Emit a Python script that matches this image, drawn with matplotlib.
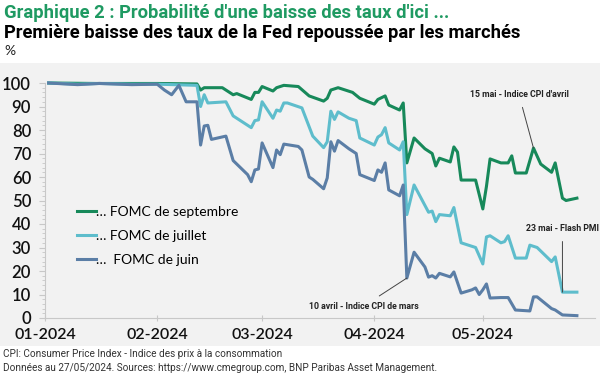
import numpy as np
import pandas as pd
import matplotlib
matplotlib.use("Agg")
import matplotlib.pyplot as plt
import matplotlib.dates as mdates
from matplotlib.patches import Rectangle
from matplotlib.ticker import MultipleLocator

# ---- data ----
sep_dates = ["2024-01-02", "2024-01-15", "2024-02-01", "2024-02-12", "2024-02-13", "2024-02-14",
             "2024-02-19", "2024-02-20", "2024-02-22", "2024-02-23", "2024-02-27", "2024-02-28",
             "2024-02-29", "2024-03-01", "2024-03-04", "2024-03-05", "2024-03-07", "2024-03-11",
             "2024-03-14", "2024-03-18", "2024-03-19", "2024-03-20", "2024-03-22", "2024-03-26",
             "2024-03-28", "2024-04-01", "2024-04-02", "2024-04-04", "2024-04-05", "2024-04-08",
             "2024-04-09", "2024-04-10", "2024-04-12", "2024-04-15", "2024-04-17", "2024-04-18",
             "2024-04-19", "2024-04-22", "2024-04-23", "2024-04-24", "2024-04-25", "2024-04-29",
             "2024-05-01", "2024-05-02", "2024-05-03", "2024-05-06", "2024-05-08", "2024-05-09",
             "2024-05-10", "2024-05-13", "2024-05-15", "2024-05-17", "2024-05-20", "2024-05-21",
             "2024-05-23", "2024-05-24", "2024-05-27"]
sep_vals = [100, 99.8, 99.8, 99.6, 97, 98,
            98, 97, 95, 95.5, 93, 96,
            96, 98.5, 96.6, 98, 99, 98.5,
            94.5, 92.3, 93.5, 97, 98, 96,
            93.5, 91, 93, 94.5, 90.6, 88.5,
            91.5, 66, 76.6, 72, 70, 64.7,
            68, 66.4, 72.8, 70.6, 58.7, 58.7,
            46.4, 56, 67.7, 66, 66, 69,
            61.7, 61.7, 72.3, 65.5, 62, 66,
            51, 50, 51]

jul_dates = ["2024-01-02", "2024-01-10", "2024-01-16", "2024-01-25", "2024-02-01", "2024-02-12",
             "2024-02-13", "2024-02-14", "2024-02-15", "2024-02-20", "2024-02-22", "2024-02-23",
             "2024-02-27", "2024-02-28", "2024-02-29", "2024-03-01", "2024-03-04", "2024-03-05",
             "2024-03-06", "2024-03-07", "2024-03-08", "2024-03-12", "2024-03-15", "2024-03-18",
             "2024-03-19", "2024-03-20", "2024-03-21", "2024-03-22", "2024-03-25", "2024-03-27",
             "2024-03-28", "2024-04-01", "2024-04-02", "2024-04-03", "2024-04-04", "2024-04-05",
             "2024-04-08", "2024-04-09", "2024-04-10", "2024-04-12", "2024-04-16", "2024-04-17",
             "2024-04-18", "2024-04-19", "2024-04-22", "2024-04-23", "2024-04-25", "2024-04-29",
             "2024-05-01", "2024-05-02", "2024-05-03", "2024-05-06", "2024-05-07", "2024-05-08",
             "2024-05-10", "2024-05-13", "2024-05-14", "2024-05-16", "2024-05-20", "2024-05-21",
             "2024-05-23", "2024-05-27"]
jul_vals = [100, 99.5, 99.8, 99.5, 99.5, 99,
            90, 95, 91.5, 92, 86, 85,
            81, 84, 84.3, 92, 85, 88.5,
            88, 91.5, 91.5, 89.4, 77.4, 72.5,
            75, 88, 84.5, 87.7, 85, 84,
            76.6, 73.6, 77, 78, 81, 74.5,
            71.5, 75, 44, 56.6, 45, 45.5,
            41, 44, 43.5, 47, 32, 30,
            23, 34.5, 35, 32, 32.5, 35,
            25.5, 25.5, 31, 30, 24, 26,
            11, 11]

jun_dates = ["2024-01-02", "2024-01-10", "2024-01-16", "2024-01-25", "2024-02-01", "2024-02-03",
             "2024-02-05", "2024-02-07", "2024-02-09", "2024-02-12", "2024-02-13", "2024-02-14",
             "2024-02-15", "2024-02-16", "2024-02-20", "2024-02-22", "2024-02-26", "2024-02-27",
             "2024-02-28", "2024-02-29", "2024-03-01", "2024-03-04", "2024-03-05", "2024-03-06",
             "2024-03-07", "2024-03-11", "2024-03-12", "2024-03-14", "2024-03-15", "2024-03-18",
             "2024-03-19", "2024-03-20", "2024-03-21", "2024-03-22", "2024-03-25", "2024-03-27",
             "2024-03-28", "2024-04-01", "2024-04-02", "2024-04-03", "2024-04-04", "2024-04-05",
             "2024-04-08", "2024-04-09", "2024-04-10", "2024-04-12", "2024-04-15", "2024-04-16",
             "2024-04-17", "2024-04-18", "2024-04-19", "2024-04-22", "2024-04-23", "2024-04-25",
             "2024-04-28", "2024-04-29", "2024-04-30", "2024-05-01", "2024-05-02", "2024-05-03",
             "2024-05-06", "2024-05-08", "2024-05-10", "2024-05-14", "2024-05-15", "2024-05-16",
             "2024-05-20", "2024-05-21", "2024-05-23", "2024-05-27"]
jun_vals = [100, 99.3, 99.8, 99.3, 99.5, 97,
            95, 99, 92, 92, 73.6, 81.7,
            82, 76, 77.4, 67, 61, 58,
            63, 63.4, 74.5, 64, 71.5, 69.5,
            74, 73, 71.5, 60, 59, 55,
            59.6, 75, 71, 75.5, 72, 70,
            61, 58.5, 63, 62, 66, 54.5,
            52, 56.6, 17, 28, 21.7, 17.4,
            18, 17, 19, 17.5, 19.6, 10.6,
            12, 12.8, 10, 12, 14.5, 8.5,
            8.7, 8.7, 3.4, 3, 9, 9,
            4, 3.4, 1.3, 1]

series_labels = ["\u2026 FOMC de septembre", "\u2026 FOMC de juillet", "\u2026  FOMC de juin"]
series_colors = ["#17895a", "#5ebdcc", "#5b7ea6"]
month_ticks = ["2024-01-01", "2024-02-01", "2024-03-01", "2024-04-01", "2024-05-01"]

narrow = ["Roboto", "DejaVu Sans"]

# ---- figure ----
W, H = 605, 377
fig = plt.figure(figsize=(W / 100, H / 100), dpi=100)
fig.patch.set_facecolor("white")

# gray panel behind the chart
fig.patches.append(Rectangle((0, 1 - 346 / H), 600 / W, (346 - 63) / H,
                             transform=fig.transFigure, facecolor="#f2f2f2",
                             edgecolor="none", zorder=-10))

fig.text(4 / W, 1 - 13 / H, "Graphique 2 : Probabilité d'une baisse des taux d'ici ...",
         color="#1f9a62", fontsize=13.2, fontweight="bold", family=narrow, va="center")
fig.text(4 / W, 1 - 33 / H, "Première baisse des taux de la Fed repoussée par les marchés",
         color="black", fontsize=13.2, fontweight="bold", family=narrow, va="center")
fig.text(4 / W, 1 - 51 / H, "%", color="#222222", fontsize=10, family="Lato", va="center")

fig.text(3 / W, 1 - 354 / H, "CPI: Consumer Price Index - Indice des prix à la consommation",
         color="#333333", fontsize=7.2, family=narrow, va="center")
fig.text(3 / W, 1 - 368 / H,
         "Données au 27/05/2024. Sources: https://www.cmegroup.com, BNP Paribas Asset Management.",
         color="#333333", fontsize=7.2, family=narrow, va="center")

ax = fig.add_axes([45 / W, (H - 318) / H, (595 - 45) / W, (318 - 83) / H], zorder=2)
ax.set_facecolor("none")

all_dates = [sep_dates, jul_dates, jun_dates]
all_vals = [sep_vals, jul_vals, jun_vals]
for d, v, lab, c in zip(all_dates, all_vals, series_labels, series_colors):
    ax.plot(pd.to_datetime(d), v, color=c, lw=2.2, label=lab, clip_on=False,
            solid_joinstyle="round")

ax.set_xlim(pd.Timestamp("2024-01-01"), pd.Timestamp("2024-06-01"))
ax.set_ylim(0, 100)
ax.yaxis.set_major_locator(MultipleLocator(10))
ax.yaxis.set_minor_locator(MultipleLocator(2))
ax.set_xticks(pd.to_datetime(month_ticks))
ax.xaxis.set_major_formatter(mdates.DateFormatter("%m-%Y"))

for s in ["top", "right"]:
    ax.spines[s].set_visible(False)
for s in ["left", "bottom"]:
    ax.spines[s].set_color("#c8c8c8")
    ax.spines[s].set_linewidth(0.8)
ax.tick_params(axis="y", which="major", length=4, color="#c8c8c8", labelsize=12, pad=6)
ax.tick_params(axis="y", which="minor", length=2, color="#c8c8c8")
ax.tick_params(axis="x", which="major", length=4, color="#c8c8c8", labelsize=11.5, pad=5,
               direction="inout")
for t in ax.get_yticklabels() + ax.get_xticklabels():
    t.set_family("Lato")
    t.set_fontweight("semibold")
    t.set_color("#111111")

leg = ax.legend(loc="upper left", bbox_to_anchor=(0.035, 0.53), frameon=False,
                handlelength=1.4, handletextpad=0.0, labelspacing=0.85,
                prop={"family": "Lato", "size": 10})

# annotations
ann_kw = dict(fontsize=6.3, fontweight="bold", family=narrow, color="#222222", ha="center",
              va="center", arrowprops=dict(arrowstyle="-", color="#444444", lw=0.7,
                                           shrinkA=4, shrinkB=0))
ax.annotate("15 mai - Indice CPI d'avril", xy=(pd.Timestamp("2024-05-15"), 72.3),
            xytext=(pd.Timestamp("2024-05-11"), 95), **ann_kw)
ax.annotate("23 mai - Flash PMI", xy=(pd.Timestamp("2024-05-23"), 11),
            xytext=(pd.Timestamp("2024-05-23"), 38), **ann_kw)
ax.annotate("10 avril - Indice CPI de mars", xy=(pd.Timestamp("2024-04-10"), 17),
            xytext=(pd.Timestamp("2024-03-29"), 5), **ann_kw)

fig.savefig("out.png", dpi=100)
